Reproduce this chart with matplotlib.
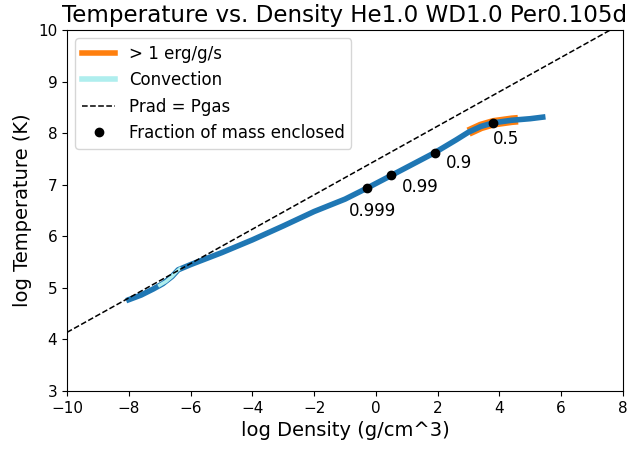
import matplotlib
matplotlib.use("Agg")
import matplotlib.pyplot as plt
import numpy as np
from matplotlib.lines import Line2D

# profile
log_rho = [-8.0, -7.6, -7.2, -6.9, -6.6, -6.4, -6.0, -5.0, -4.0, -3.0, -2.0,
           -1.0, -0.3, 0.5, 1.2, 1.9, 2.6, 3.0, 3.4, 3.8, 4.4, 5.0, 5.4]
log_T = [4.77, 4.86, 4.98, 5.08, 5.22, 5.35, 5.45, 5.68, 5.93, 6.20, 6.48,
         6.72, 6.93, 7.18, 7.40, 7.62, 7.87, 8.02, 8.13, 8.20, 8.25, 8.28, 8.31]

burn_rho = [3.0, 3.4, 3.8, 4.4, 4.6]
burn_T = [8.02, 8.13, 8.20, 8.25, 8.26]

conv_rho = [-7.0, -6.8, -6.6, -6.45, -6.35]
conv_T = [5.05, 5.12, 5.22, 5.32, 5.37]

mass_rho = [3.8, 1.9, 0.5, -0.3]
mass_T = [8.20, 7.62, 7.18, 6.93]
mass_lab = ["0.5", "0.9", "0.99", "0.999"]
lab_rho = [3.79, 2.27, 0.84, -0.87]
lab_T = [7.89, 7.42, 6.96, 6.49]

fig = plt.figure(figsize=(6.29, 4.53), dpi=100)
ax = fig.add_axes([0.1065, 0.1369, 0.884, 0.7969])

ax.plot(burn_rho, burn_T, color="tab:orange", lw=7, solid_capstyle="butt")
ax.plot(log_rho, log_T, color="tab:blue", lw=4)
ax.plot(conv_rho, conv_T, color="paleturquoise", lw=2.5)

xx = np.array([-10, 8])
ax.plot(xx, xx / 3.0 + 7.47, "k--", lw=1.1)

ax.plot(mass_rho, mass_T, "ko", ms=6)
for x, y, s in zip(lab_rho, lab_T, mass_lab):
	ax.text(x, y, s, fontsize=12, ha="left", va="center")

ax.set_xlim(-10, 8)
ax.set_ylim(3, 10)
ax.tick_params(labelsize=11)
ax.set_xlabel("log Density (g/cm^3)", fontsize=14)
ax.set_ylabel("log Temperature (K)", fontsize=14)
ax.set_title("Temperature vs. Density He1.0 WD1.0 Per0.105d", fontsize=16.6)

handles = [Line2D([], [], color="tab:orange", lw=4),
           Line2D([], [], color="paleturquoise", lw=4),
           Line2D([], [], color="k", ls="--", lw=1.1),
           Line2D([], [], color="k", marker="o", ls="none", ms=6)]
labels = ["> 1 erg/g/s", "Convection", "Prad = Pgas", "Fraction of mass enclosed"]
ax.legend(handles, labels, loc="upper left", fontsize=12)

fig.savefig("out.png", dpi=100)
